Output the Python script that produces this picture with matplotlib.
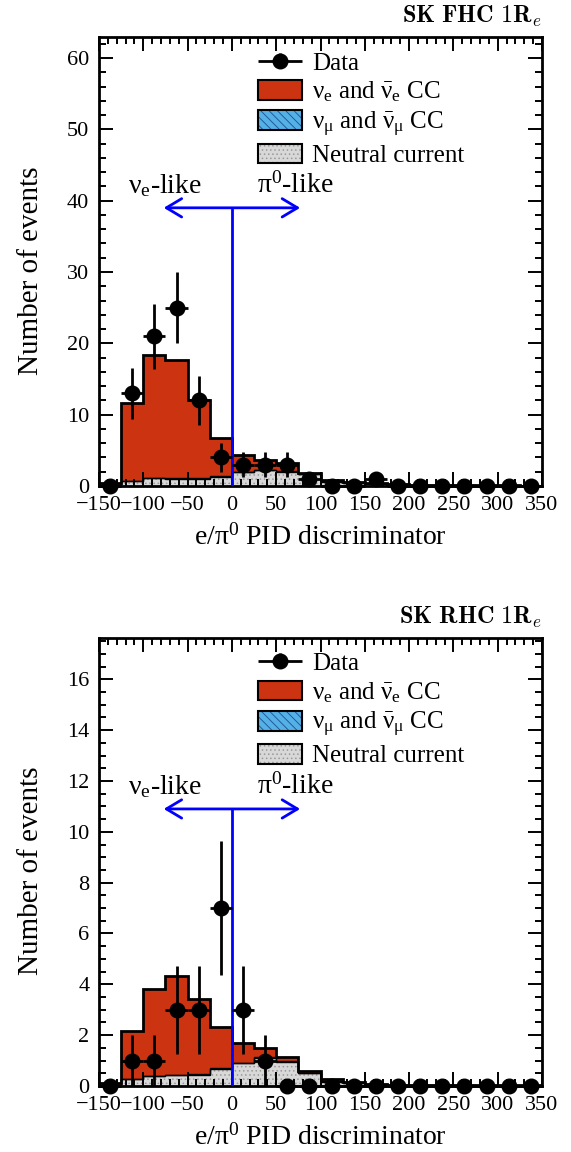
import numpy as np
import matplotlib
matplotlib.use("Agg")
import matplotlib.pyplot as plt
from matplotlib.patches import Patch
from matplotlib.ticker import MultipleLocator
from matplotlib.legend_handler import HandlerTuple, HandlerErrorbar
from matplotlib.container import ErrorbarContainer

plt.rcParams["font.family"] = ["Liberation Serif", "DejaVu Serif"]
plt.rcParams["mathtext.fontset"] = "custom"
plt.rcParams["mathtext.rm"] = "Liberation Serif"
plt.rcParams["mathtext.it"] = "Liberation Serif:italic"
plt.rcParams["mathtext.bf"] = "Liberation Serif:bold"
plt.rcParams["hatch.linewidth"] = 0.6

# e/pi0 discriminator binning
bin_edges = list(range(-150, 375, 25))
bin_centers = [e + 12.5 for e in bin_edges[:-1]]

# FHC 1Re sample
data_fhc = [0, 13, 21, 25, 12, 4, 3, 3, 3, 1, 0, 0, 1, 0, 0, 0, 0, 0, 0, 0]
nue_fhc = [0.23, 10.95, 17.12, 16.52, 10.92, 5.40, 2.40, 1.40, 1.10, 0.10,
           0.15, 0.06, 0.07, 0.07, 0.03, 0.03, 0.02, 0.02, 0.02, 0.02]
numu_fhc = [0.02, 0.05, 0.08, 0.08, 0.08, 0.10, 0.10, 0.10, 0.10, 0.05,
            0.05, 0.04, 0.03, 0.03, 0.02, 0.02, 0.01, 0.01, 0.01, 0.01]
nc_fhc = [0.15, 0.70, 1.10, 1.00, 1.00, 1.30, 1.90, 2.20, 2.00, 1.65,
          0.60, 0.40, 0.30, 0.20, 0.15, 0.10, 0.08, 0.05, 0.05, 0.04]

# RHC 1Re sample
data_rhc = [0, 1, 1, 3, 3, 7, 3, 1, 0, 0, 0, 0, 0, 0, 0, 0, 0, 0, 0, 0]
nue_rhc = [0.05, 1.91, 3.42, 3.89, 2.94, 1.62, 0.78, 0.36, 0.16, 0.08,
           0.07, 0.03, 0.02, 0.01, 0.01, 0.01, 0.01, 0.01, 0.01, 0.01]
numu_rhc = [0.00, 0.01, 0.02, 0.02, 0.02, 0.03, 0.03, 0.03, 0.03, 0.02,
            0.02, 0.01, 0.01, 0.01, 0.00, 0.00, 0.00, 0.00, 0.00, 0.00]
nc_rhc = [0.05, 0.26, 0.39, 0.43, 0.45, 0.66, 0.89, 1.10, 0.96, 0.50,
          0.17, 0.10, 0.05, 0.03, 0.03, 0.02, 0.02, 0.01, 0.01, 0.01]

legend_labels = ["Data",
                 r"$\mathrm{\nu_e}$ and $\mathrm{\bar{\nu}_e}$ CC",
                 r"$\mathrm{\nu_\mu}$ and $\mathrm{\bar{\nu}_\mu}$ CC",
                 "Neutral current"]

RED = "#cc3311"
BLUE = "#55b0e6"
DKBLUE = "#1a4f94"
GRAY = "#d8d8d8"
HGRAY = "#9a9a9a"
PIDBLUE = "#0000ff"


def draw_panel(ax, data, nue, numu, nc, ymax, ymaj, ymin, arrow_y, title):
    edges = np.array(bin_edges, dtype=float)
    nc = np.array(nc)
    lvl2 = nc + np.array(numu)
    lvl3 = lvl2 + np.array(nue)

    ax.stairs(lvl3, edges, baseline=lvl2, fill=True, facecolor=RED, lw=0, zorder=1)
    ax.stairs(lvl2, edges, baseline=nc, fill=True, facecolor=BLUE,
              edgecolor=DKBLUE, hatch="\\\\\\\\", lw=0, zorder=1)
    ax.stairs(nc, edges, baseline=0, fill=True, facecolor=GRAY,
              edgecolor=HGRAY, hatch="....", lw=0, zorder=1)
    ax.stairs(nc, edges, color="k", lw=1.0, zorder=2)
    ax.stairs(lvl2, edges, color="k", lw=1.0, zorder=2)
    ax.stairs(lvl3, edges, color="k", lw=2.0, zorder=2)

    # PID cut line and direction arrows
    ax.plot([0, 0], [0, arrow_y], color=PIDBLUE, lw=2.0, zorder=3)
    ax.annotate("", xy=(-77, arrow_y), xytext=(77, arrow_y),
                arrowprops=dict(arrowstyle="<->,head_length=0.5,head_width=0.3",
                                color=PIDBLUE, lw=2.0, shrinkA=0, shrinkB=0,
                                mutation_scale=22), zorder=3)
    ty = arrow_y + 0.0335 * ymax
    ax.text(-76, ty, r"$\mathrm{\nu_e}$-like", ha="center", va="baseline", fontsize=20)
    ax.text(72, ty, r"$\mathrm{\pi^0}$-like", ha="center", va="baseline", fontsize=20)

    d = np.array(data, dtype=float)
    eb = ax.errorbar(bin_centers, d, xerr=12.5, yerr=np.sqrt(d), fmt="o",
                     color="k", ms=10.5, elinewidth=2.0, capsize=0,
                     clip_on=False, zorder=5)

    ax.set_xlim(-150, 350)
    ax.set_ylim(0, ymax)
    ax.xaxis.set_major_locator(MultipleLocator(50))
    ax.xaxis.set_minor_locator(MultipleLocator(10))
    ax.yaxis.set_major_locator(MultipleLocator(ymaj))
    ax.yaxis.set_minor_locator(MultipleLocator(ymin))
    ax.tick_params(which="both", direction="in", top=True, right=True,
                   width=1.4, labelsize=16, pad=7)
    ax.tick_params(which="major", length=10)
    ax.tick_params(which="minor", length=5)
    for sp in ax.spines.values():
        sp.set_linewidth(2.0)

    ax.set_xlabel(r"e/$\mathrm{\pi^0}$ PID discriminator", fontsize=20)
    ax.set_ylabel("Number of events", fontsize=21)
    ax.xaxis.set_label_coords(0.5, -0.085)
    ax.yaxis.set_label_coords(-0.125, 0.48)

    ax.text(1.0, 1.0 + 14 / 449, title, ha="right", va="baseline",
            fontsize=17.5, math_fontfamily="cm", transform=ax.transAxes)

    h_red = Patch(facecolor=RED, edgecolor="k", lw=1.5)
    h_blue = (Patch(facecolor=BLUE, edgecolor=DKBLUE, hatch="\\\\\\\\", lw=0),
              Patch(facecolor="none", edgecolor="k", lw=1.5))
    h_gray = (Patch(facecolor=GRAY, edgecolor=HGRAY, hatch="....", lw=0),
              Patch(facecolor="none", edgecolor="k", lw=1.5))
    ax.legend([eb, h_red, h_blue, h_gray], legend_labels,
              loc="upper left", bbox_to_anchor=(0.359, 0.969),
              frameon=False, fontsize=18, handlelength=1.76, handleheight=0.85,
              handletextpad=0.4, labelspacing=0.2, borderpad=0, borderaxespad=0,
              handler_map={tuple: HandlerTuple(ndivide=1, pad=0),
                           ErrorbarContainer: HandlerErrorbar(xerr_size=0.88, yerr_size=0.3)})


fig = plt.figure(figsize=(5.71, 11.52), dpi=100)
ax1 = fig.add_axes([0.1734, 0.5781, 0.7758, 0.3895])
ax2 = fig.add_axes([0.1734, 0.0573, 0.7758, 0.3892])

draw_panel(ax1, data_fhc, nue_fhc, numu_fhc, nc_fhc, 62.9, 10, 2, 39.0,
           r"$\mathbf{SK\ FHC\ 1R}_{e}$")
draw_panel(ax2, data_rhc, nue_rhc, numu_rhc, nc_rhc, 17.64, 2, 0.5, 10.9,
           r"$\mathbf{SK\ RHC\ 1R}_{e}$")

fig.savefig("out.png", dpi=100)
